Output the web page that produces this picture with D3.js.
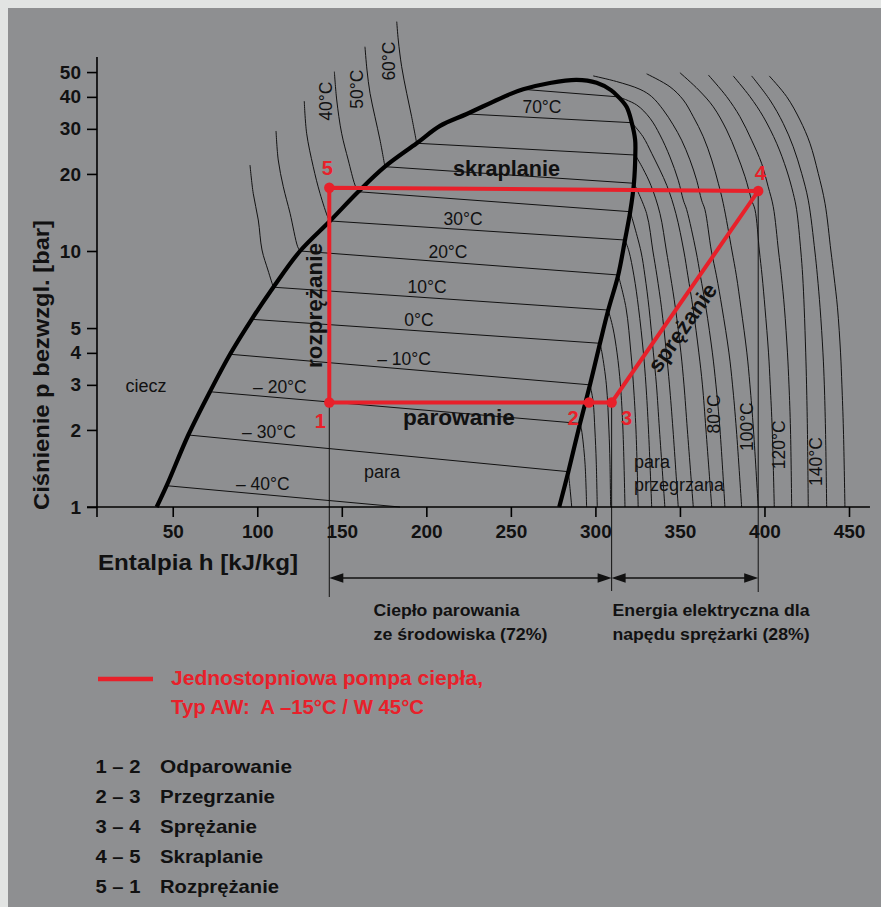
<!DOCTYPE html>
<html><head><meta charset="utf-8">
<script src="https://cdn.jsdelivr.net/npm/d3@7"></script>
<style>
html,body{margin:0;padding:0;background:#e2e4e3;}
svg{display:block;}
text{font-family:"Liberation Sans",Arial,Helvetica,sans-serif;fill:#111;}
</style></head><body>
<svg id="chart" width="881" height="907"></svg>
<script>
// ---------- data: log p-h diagram of the refrigerant (h in kJ/kg, p in bar) ----------
const pTicks = [1, 2, 3, 4, 5, 10, 20, 30, 40, 50];
const hTicks = [50, 100, 150, 200, 250, 300, 350, 400, 450];
const hAxisExtent = [5.2, 462.4];
const pAxisTop = 57.3;

// saturation dome: liquid side (bottom -> critical region), vapour side (top -> bottom)
const satLiquid = [[40.5,1.0],[46.4,1.211],[59.2,1.911],[72.0,2.82],[83.9,3.95],[96.7,5.41],[109.5,7.22],
  [125.3,10.0],[143.0,13.1],[159.7,17.04],[175.5,21.35],[194.3,26.35],[208.1,30.8],[223.9,34.3],
  [249.5,41.0],[257.3,42.8],[273.1,45.3],[288.9,46.6]];
const satVapour = [[300.7,45.4],[309.2,42.5],[313.6,40.0],[318.5,36.5],[321.5,31.71],[323.5,27.2],
  [323.6,23.71],[322.8,18.39],[320.6,14.24],[317.5,11.04],[313.5,8.06],[307.6,5.88],[302.7,4.36],
  [296.8,3.0],[290.9,2.12],[284.0,1.374],[278.6,1.0]];

// isotherms inside the dome (start on liquid line, end on vapour line)
const wetTemps = [-40, -30, -20, -10, 0, 10, 20, 30, 40, 50, 60, 70, 80];
const wetStart = [[46.4,1.211],[59.2,1.911],[72.0,2.82],[83.9,3.95],[96.7,5.41],[109.5,7.22],[125.3,10.0],
  [143.0,13.1],[159.7,17.04],[175.5,21.35],[194.3,26.35],[223.9,34.3],[257.3,42.8]];
const wetEnd = [[184.4,1.0],[284.0,1.374],[290.9,2.12],[296.8,3.0],[302.7,4.36],[307.6,5.88],[313.5,8.06],
  [317.5,11.04],[320.6,14.24],[322.8,18.39],[323.6,23.71],[321.5,31.71],[313.6,40.0]];
// labelled wet isotherms: temperature text and enthalpy of the label centre
const wetLabelTemps = [-40, -30, -20, -10, 0, 10, 20, 30, 70];
const wetLabelH = [103.3, 106.9, 113.4, 186.8, 195.6, 200.4, 212.8, 221.7, 268.4];

// sub-cooled liquid isotherms (left of the dome)
const liquidTemps = [10, 20, 30, 40, 50, 60];
const liquidLines = [
  [[95.7,21.67],[97.6,16.80],[100.6,13.22],[102.8,10.09],[106.3,8.43],[109.5,7.22]],
  [[111.1,29.43],[112.4,22.68],[115.4,17.83],[119.4,14.04],[123.9,10.39],[125.3,10.0]],
  [[127.8,38.5],[129.2,28.83],[133.1,21.35],[137.1,16.80],[142.0,13.42],[143.0,13.1]],
  [[145.6,50.2],[147.0,38.9],[149.9,28.83],[153.8,22.68],[157.8,18.1],[159.7,17.04]],
  [[163.7,62.8],[164.9,50.9],[166.7,41.3],[169.6,33.47],[172.6,27.14],[175.5,21.35]],
  [[182.5,78.7],[183.4,66.7],[185.4,52.5],[188.4,41.3],[191.3,33.47],[194.3,26.35]]
];
const liquidLabelTemps = [40, 50, 60];
const liquidLabelPos = [[144.2,38.5],[162.5,42.9],[181.4,55.2]];

// superheated vapour isotherms (right of the dome), -30 .. 150 degC
const vapourTemps = [-30,-20,-10,0,10,20,30,40,50,60,70,80,90,100,110,120,130,140,150];
const vapourLines = [
  [[284.0,1.374],[285.0,1.18],[286.0,1.0]],
  [[290.9,2.12],[291.8,2.0],[293.8,1.5],[294.8,1.0]],
  [[296.8,3.0],[298.6,2.6],[299.7,2.0],[300.5,1.5],[301.1,1.0]],
  [[302.7,4.36],[303.9,4.0],[306.5,3.0],[308.0,2.0],[308.6,1.5],[309.0,1.0]],
  [[307.6,5.88],[310.4,5.0],[312.8,4.0],[314.8,3.0],[316.3,2.0],[317.5,1.0]],
  [[313.5,8.06],[318.1,6.0],[321.0,4.0],[322.5,3.0],[324.0,2.0],[325.3,1.0]],
  [[317.5,11.04],[319.8,10],[322.8,8],[325.5,6],[328.4,4],[329.9,3],[331.4,2],[333.3,1]],
  [[320.6,14.24],[326.9,10],[329.3,8],[331.7,6],[334.3,4],[336.1,3],[337.9,2],[341.1,1]],
  [[322.8,18.39],[330.3,14],[334.0,10],[336.4,8],[339.1,6],[342.0,4],[343.8,3],[345.9,2],[349.0,1]],
  [[323.6,23.71],[328.1,21],[332.9,18],[338.2,14],[342.0,10],[344.4,8],[347.3,6],[350.6,4],[352.4,3],[354.4,2],[357.9,1]],
  [[321.5,31.71],[328.1,28],[333.4,24],[342.3,18],[347.6,14],[352.3,10],[354.7,8],[357.7,6],[361.2,4],[363.3,3],[365.4,2],[368.8,1]],
  [[313.6,40.0],[324.4,37.2],[332.3,33.0],[338.2,28.4],[344.1,23.3],[349.0,18.9],[352.0,15.8],[354.0,14.5],[359.5,10],[362.1,8],[365.4,6],[369.2,4],[371.3,3],[373.7,2],[376.6,1]],
  [[298.7,48.3],[312.6,45.9],[326.4,42.8],[333.3,40.1],[340.1,35.6],[346.0,31.1],[351.0,27.1],[355.9,22.7],[359.9,18.9],[362.8,15.8],[364.8,14.5],[368.6,10],[371.6,8],[374.9,6],[379.0,4],[381.1,3],[383.4,2],[386.5,1]],
  [[330.3,49.2],[344.1,43.8],[352.0,38.9],[357.9,33.47],[363.8,27.96],[368.8,22.68],[372.7,18.39],[375.6,15.36],[380.8,10],[383.4,8],[386.1,6],[389.6,4],[391.4,3],[393.5,2],[396.3,1]],
  [[350.0,49.7],[361.1,42.55],[369.7,36.6],[377.6,29.7],[383.5,24.07],[388.5,19.51],[392.4,15.8],[394.4,14.5],[397.0,10],[398.6,8],[400.3,6],[402.4,4],[403.4,3],[404.6,2],[405.8,1]],
  [[366.8,48.7],[377.6,40.1],[385.5,33.47],[392.4,27.1],[398.3,22.0],[402.2,17.83],[405.2,14.9],[408.3,10],[410.0,8],[411.8,6],[413.6,4],[414.5,3],[415.4,2],[416.1,1]],
  [[381.5,48.3],[391.4,40.1],[399.3,33.47],[407.2,26.35],[413.1,20.72],[417.0,16.8],[419.0,14.5],[421.5,10],[422.6,8],[423.5,6],[424.4,4],[424.9,3],[425.4,2],[425.9,1]],
  [[392.4,48.3],[403.2,38.9],[411.1,31.5],[417.0,25.55],[422.0,20.1],[425.9,15.8],[429.8,10],[431.3,8],[432.9,6],[434.6,4],[435.4,3],[436.1,2],[436.8,1]],
  [[402.8,48.3],[413.1,40.1],[421.0,32.5],[426.9,26.35],[431.8,20.1],[435.8,15.36],[439.3,10],[441.1,8],[443.2,6],[445.0,4],[445.8,3],[446.7,2],[447.6,1]]
];
const vapourLabelTemps = [80, 100, 120, 140];
const vapourLabelPos = [[373.5,2.31],[393.2,2.06],[412.1,1.75],[434.0,1.505]];

// heat pump cycle state points 1..5
const cycleNames = ["1", "2", "3", "4", "5"];
const cycleH = [142.6, 296.2, 309.6, 396.3, 142.6];
const cycleP = [2.56, 2.56, 2.56, 17.15, 17.67];

// process steps listed below the diagram
const stepCodes = ["1 – 2", "2 – 3", "3 – 4", "4 – 5", "5 – 1"];
const stepNames = ["Odparowanie", "Przegrzanie", "Sprężanie", "Skraplanie", "Rozprężanie"];

// ---------- drawing ----------
const RED = "#e8202a";
const svg = d3.select("#chart");
svg.append("rect").attr("width", 881).attr("height", 907).attr("fill", "#e2e4e3");
svg.append("rect").attr("x", 8).attr("y", 8).attr("width", 873).attr("height", 899).attr("fill", "#8e8f91");

const x = d3.scaleLinear().domain([0, 450]).range([88.2, 849]);
const decade = 256;
const y = d3.scaleLog().domain([1, pAxisTop]).range([507, 507 - decade * Math.log10(pAxisTop)]);

const line = d3.line().x(d => x(d[0])).y(d => y(d[1])).curve(d3.curveCatmullRom.alpha(0.5));
const straight = d3.line().x(d => x(d[0])).y(d => y(d[1]));

const g = svg.append("g");

// fitted text helper: fixed width, glyphs scaled slightly
function fit(sel, w) {
  return sel.attr("textLength", w).attr("lengthAdjust", "spacingAndGlyphs");
}

// thin isotherms
const thin = g.append("g").attr("fill", "none").attr("stroke", "#111").attr("stroke-width", 1);
wetTemps.forEach((t, i) => thin.append("path").attr("d", straight([wetStart[i], wetEnd[i]])));
liquidLines.forEach(pts => thin.append("path").attr("d", line(pts)));
vapourLines.forEach(pts => thin.append("path").attr("d", line(pts)));

// saturation dome
g.append("path").attr("d", line(satLiquid.concat(satVapour)))
  .attr("fill", "none").attr("stroke", "#000").attr("stroke-width", 4.2).attr("stroke-linejoin", "round");

// enthalpy marker lines from points 1, 3 and 4 down to the energy arrows
const markerBottoms = [597, 591, 592];
[0, 2, 3].forEach((k, i) => {
  g.append("line").attr("x1", x(cycleH[k])).attr("x2", x(cycleH[k]))
    .attr("y1", y(cycleP[k])).attr("y2", markerBottoms[i])
    .attr("stroke", "#111").attr("stroke-width", 1);
});

// energy arrows
const arrowY = 578;
function arrow(h1, h2) {
  const a = x(h1), b = x(h2), L = 14, W = 4.8;
  g.append("line").attr("x1", a + 4).attr("x2", b - 4).attr("y1", arrowY).attr("y2", arrowY)
    .attr("stroke", "#111").attr("stroke-width", 1.6);
  g.append("path").attr("d", `M${a},${arrowY} L${a + L},${arrowY - W} L${a + L},${arrowY + W} Z`).attr("fill", "#111");
  g.append("path").attr("d", `M${b},${arrowY} L${b - L},${arrowY - W} L${b - L},${arrowY + W} Z`).attr("fill", "#111");
}
arrow(cycleH[0], cycleH[2]);
arrow(cycleH[2], cycleH[3]);

// the cycle
const cyc = cycleH.map((h, i) => [h, cycleP[i]]);
g.append("path").attr("d", straight(cyc) + "Z")
  .attr("fill", "none").attr("stroke", RED).attr("stroke-width", 4).attr("stroke-linejoin", "miter");
g.selectAll(".pt").data(cyc).join("circle")
  .attr("cx", d => x(d[0])).attr("cy", d => y(d[1])).attr("r", 5.2).attr("fill", RED);
const nameOffsets = [[-9, 26], [-16, 23], [15, 23], [2, -11], [-2, -13]];
cyc.forEach((d, i) => {
  g.append("text").attr("x", x(d[0]) + nameOffsets[i][0]).attr("y", y(d[1]) + nameOffsets[i][1])
    .attr("text-anchor", "middle").attr("font-size", 20).attr("font-weight", "bold")
    .style("fill", RED).text(cycleNames[i]);
});

// isotherm labels
const fmtT = t => (t < 0 ? "– " + Math.abs(t) : String(t)) + "°C";
wetLabelTemps.forEach((t, i) => {
  const k = wetTemps.indexOf(t);
  const a = wetStart[k], b = wetEnd[k], h = wetLabelH[i];
  const f = (x(h) - x(a[0])) / (x(b[0]) - x(a[0]));
  const yy = y(a[1]) + f * (y(b[1]) - y(a[1]));
  g.append("text").attr("x", x(h)).attr("y", yy - 4.5).attr("text-anchor", "middle")
    .attr("font-size", 17.5).text(fmtT(t));
});
function rotLabel(t, pos) {
  g.append("text").attr("transform", `translate(${x(pos[0])},${y(pos[1])}) rotate(-90)`)
    .attr("text-anchor", "middle").attr("font-size", 17.5).text(fmtT(t));
}
liquidLabelTemps.forEach((t, i) => rotLabel(t, liquidLabelPos[i]));
vapourLabelTemps.forEach((t, i) => rotLabel(t, vapourLabelPos[i]));

// region and process names
function txt(h, p, s, opts = {}) {
  const e = g.append("text").attr("x", x(h)).attr("y", y(p)).attr("text-anchor", opts.anchor || "middle")
    .attr("font-size", opts.size || 18).text(s);
  if (opts.bold) e.attr("font-weight", "bold");
  return e;
}
txt(34.2, 2.81, "ciecz");
txt(173.8, 1.298, "para");
txt(322.8, 1.42, "para", { anchor: "start" });
txt(322.8, 1.155, "przegrzana", { anchor: "start" });
fit(txt(247.4, 19.6, "skraplanie", { bold: true, size: 22 }), 107);
fit(txt(219.3, 2.09, "parowanie", { bold: true, size: 22 }), 112);
fit(g.append("text").attr("transform", `translate(${x(138.3)},${y(6.12)}) rotate(-90)`)
  .attr("text-anchor", "middle").attr("font-size", 22).attr("font-weight", "bold")
  .text("rozprężanie"), 125);
fit(g.append("text").attr("transform", `translate(${x(351.5)},${y(5.02)}) rotate(-55)`)
  .attr("text-anchor", "middle").attr("dominant-baseline", "central").attr("font-size", 22).attr("font-weight", "bold")
  .text("sprężanie"), 103);

// axes
const axStroke = 1.6;
const yAxis = d3.axisLeft(y).tickValues(pTicks).tickFormat(d3.format("d")).tickSize(10).tickPadding(6).tickSizeOuter(0);
const yg = g.append("g").attr("transform", `translate(${x(hAxisExtent[0])},0)`).call(yAxis);
const xAxis = d3.axisBottom(x).tickValues(hTicks).tickSize(10).tickPadding(7.5).tickSizeOuter(0);
const xg = g.append("g").attr("transform", `translate(0,${y(1)})`).call(xAxis);
[yg, xg].forEach(a => {
  a.select(".domain").remove();
  a.selectAll(".tick line").attr("stroke", "#000").attr("stroke-width", axStroke);
  a.selectAll(".tick text").attr("font-size", 19).attr("font-weight", "bold")
    .attr("font-family", "'Liberation Sans',Arial,sans-serif").style("fill", "#111");
});
g.append("line").attr("x1", x(hAxisExtent[0])).attr("x2", x(hAxisExtent[0]))
  .attr("y1", y(pAxisTop)).attr("y2", y(1) + 10).attr("stroke", "#000").attr("stroke-width", axStroke);
g.append("line").attr("x1", x(hAxisExtent[0]) - 10).attr("x2", x(hAxisExtent[1]))
  .attr("y1", y(1)).attr("y2", y(1)).attr("stroke", "#000").attr("stroke-width", axStroke);

// axis titles
fit(g.append("text").attr("transform", "translate(49,365) rotate(-90)").attr("text-anchor", "middle")
  .attr("font-size", 22).attr("font-weight", "bold").text("Ciśnienie p bezwzgl. [bar]"), 290);
fit(g.append("text").attr("x", 98).attr("y", 570).attr("font-size", 22).attr("font-weight", "bold")
  .text("Entalpia h [kJ/kg]"), 200);

// energy share captions
const cap = (xx, yy, s, w) => fit(g.append("text").attr("x", xx).attr("y", yy).attr("font-size", 16.5)
  .attr("font-weight", "bold").text(s), w);
cap(373.5, 616, "Ciepło parowania", 146);
cap(373.5, 640, "ze środowiska (72%)", 174);
cap(612.5, 616, "Energia elektryczna dla", 197);
cap(612.5, 640, "napędu sprężarki (28%)", 197);

// legend of the cycle line
g.append("line").attr("x1", 98).attr("x2", 153).attr("y1", 679).attr("y2", 679)
  .attr("stroke", RED).attr("stroke-width", 4.5);
fit(g.append("text").attr("x", 171).attr("y", 685).attr("font-size", 19.5).attr("font-weight", "bold")
  .style("fill", RED).text("Jednostopniowa pompa ciepła,"), 312);
fit(g.append("text").attr("x", 171).attr("y", 714).attr("font-size", 19.5).attr("font-weight", "bold")
  .style("fill", RED).attr("xml:space", "preserve").text("Typ AW:  A –15°C / W 45°C"), 253);

// process step list
const stepW = [132, 115, 97, 103, 119];
stepCodes.forEach((c, i) => {
  const yy = 773 + i * 30;
  fit(g.append("text").attr("x", 95.5).attr("y", yy).attr("font-size", 19).attr("font-weight", "bold")
    .text(c), 45);
  fit(g.append("text").attr("x", 160).attr("y", yy).attr("font-size", 19).attr("font-weight", "bold")
    .text(stepNames[i]), stepW[i]);
});
</script>
</body></html>
